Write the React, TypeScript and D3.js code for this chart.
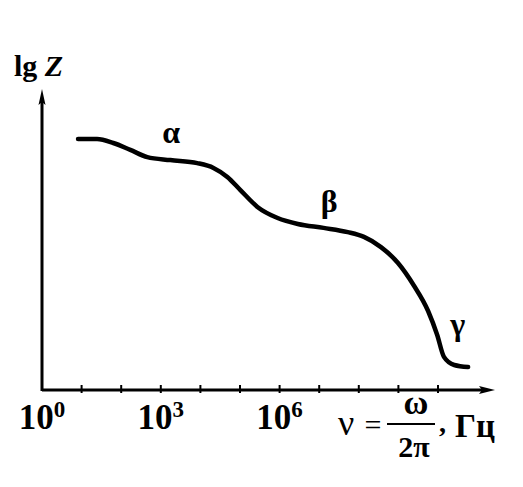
import React from 'react';
import * as d3 from 'd3';

// curve: log10 of frequency and lg Z (arbitrary units)
const freqExp = [0.91, 1.39, 1.8, 2.23, 2.66, 3.24, 3.92, 4.33, 4.68, 5.01, 5.44, 5.95, 6.46, 7.11, 7.72, 8.13, 8.56, 8.99, 9.39, 9.75, 9.98, 10.15, 10.41, 10.76];
const lgZ = [8.33, 8.33, 8.2, 7.97, 7.73, 7.63, 7.53, 7.37, 7.07, 6.63, 6.07, 5.7, 5.5, 5.37, 5.23, 5.07, 4.73, 4.2, 3.45, 2.6, 1.8, 1.07, 0.8, 0.73];

const tickExps = [1, 2, 3, 4, 5, 6, 7, 8, 9, 10];
const labelExps = [0, 3, 6];

// region labels: [name, lg nu, lg Z]
const regions: [string, number, number][] = [
  ['α', 3.26, 8.2],
  ['β', 7.25, 5.9],
  ['γ', 10.5, 1.8],
];

export default function App() {
  const width = 523;
  const height = 487;
  const x0 = 42;
  const y0 = 389;

  const x = d3.scaleLog().domain([1, 1e11]).range([x0, x0 + 11 * 39.6]);
  const y = d3.scaleLinear().domain([0, 10]).range([y0, 89]);

  const pts: [number, number][] = freqExp.map((e, i) => [Math.pow(10, e), lgZ[i]]);
  const line = d3.line<[number, number]>()
    .x(d => x(d[0]))
    .y(d => y(d[1]))
    .curve(d3.curveMonotoneX);

  const font = '"Liberation Serif", "Times New Roman", serif';

  return (
    <svg width={width} height={height} style={{ position: 'absolute', left: 0, top: 0, background: '#fff' }}>
      {/* axes */}
      <line x1={x0} y1={y0 + 1} x2={486} y2={y0 + 1} stroke="#000" strokeWidth={3} />
      <path d={`M495,${y0 + 1} L479,${y0 - 3} L482,${y0 + 1} L479,${y0 + 5} Z`} fill="#000" />
      <line x1={x0} y1={y0 + 2} x2={x0} y2={100} stroke="#000" strokeWidth={3} />
      <path d={`M${x0},89 L${x0 - 3.5},105 L${x0},102 L${x0 + 3.5},105 Z`} fill="#000" />

      {tickExps.map(e => (
        <line key={e} x1={x(Math.pow(10, e))} x2={x(Math.pow(10, e))} y1={y0 - 4} y2={y0 + 4} stroke="#000" strokeWidth={2} />
      ))}

      {labelExps.map(e => (
        <text key={e} x={x(Math.pow(10, e))} y={429} textAnchor="middle" fontFamily={font} fontWeight="bold" fontSize={35}>
          10<tspan fontSize={23} dy={-12}>{e}</tspan>
        </text>
      ))}

      {/* curve */}
      <path d={line(pts) || ''} fill="none" stroke="#000" strokeWidth={4.5} strokeLinecap="round" strokeLinejoin="round" />

      {regions.map(([t, e, v]) => (
        <text key={t} x={x(Math.pow(10, e))} y={y(v)} textAnchor="middle" fontFamily={font} fontWeight="bold" fontSize={32}>{t}</text>
      ))}

      {/* axis titles */}
      <text x={14} y={76} fontFamily={font} fontWeight="bold" fontSize={30}>
        lg <tspan fontStyle="italic">Z</tspan>
      </text>

      <g fontFamily={font}>
        <text x={338} y={435} fontSize={36}>ν</text>
        <text x={373} y={435} fontSize={30} textAnchor="middle">=</text>
        <line x1={387} x2={435} y1={424} y2={424} stroke="#000" strokeWidth={2} />
        <text x={416} y={414} fontSize={34} fontWeight="bold" textAnchor="middle">ω</text>
        <text x={414} y={457} fontSize={30} fontWeight="bold" textAnchor="middle">2π</text>
        <text x={439} y={432} fontSize={28} fontWeight="bold">,</text>
        <text x={455} y={437} fontSize={33} fontWeight="bold">Гц</text>
      </g>
    </svg>
  );
}
